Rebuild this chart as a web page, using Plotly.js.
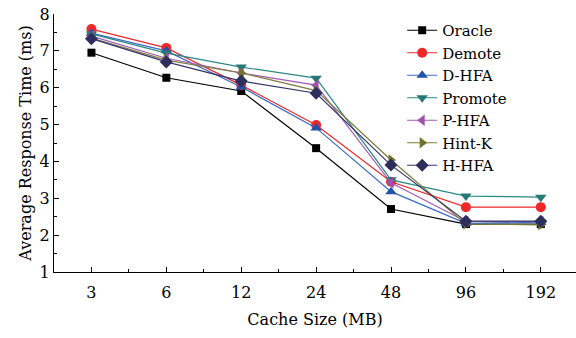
<!DOCTYPE html>
<html>
<head>
<meta charset="utf-8">
<script src="https://cdn.plot.ly/plotly-3.0.1.min.js"></script>
<style>html,body{margin:0;padding:0;background:#fff;}#chart{width:576px;height:338px;}</style>
</head>
<body>
<div id="chart"></div>
<script>
const cacheSizes = ["3", "6", "12", "24", "48", "96", "192"];
const oracle  = [6.95, 6.27, 5.91, 4.36, 2.71, 2.30, 2.30];
const demote  = [7.59, 7.08, 6.07, 4.99, 3.45, 2.76, 2.76];
const dhfa    = [7.48, 7.00, 6.02, 4.91, 3.18, 2.32, 2.35];
const promote = [7.46, 6.94, 6.56, 6.26, 3.50, 3.06, 3.03];
const phfa    = [7.40, 6.80, 6.40, 6.07, 3.42, 2.37, 2.37];
const hintk   = [7.35, 6.75, 6.40, 5.92, 4.04, 2.30, 2.28];
const hhfa    = [7.33, 6.70, 6.18, 5.85, 3.90, 2.38, 2.38];

const seriesNames = ["Oracle", "Demote", "D-HFA", "Promote", "P-HFA", "Hint-K", "H-HFA"];
const seriesData = [oracle, demote, dhfa, promote, phfa, hintk, hhfa];
const lineColors = ["#000000", "#f0282a", "#3a6cc4", "#2a8a86", "#a45bb4", "#7c7c3a", "#34346a"];
const markerColors = ["#000000", "#f0282a", "#2352a8", "#257a78", "#a04fae", "#72722e", "#2e2e5e"];
const symbols = ["square", "circle", "triangle-up", "triangle-down", "triangle-left", "triangle-right", "diamond"];
const sizes = [8, 10, 10, 10, 10, 10, 10];

const xIdx = cacheSizes.map((_, i) => i);

const traces = seriesNames.map((name, k) => ({
  x: xIdx,
  y: seriesData[k],
  name: name,
  type: "scatter",
  mode: "lines+markers",
  line: {color: lineColors[k], width: 1.2},
  marker: {symbol: symbols[k], size: sizes[k], color: markerColors[k]}
}));

const FONT = "DejaVu Serif";

const layout = {
  width: 576,
  height: 338,
  margin: {l: 54, r: 0, t: 14, b: 66},
  paper_bgcolor: "#ffffff",
  plot_bgcolor: "#ffffff",
  font: {family: FONT, size: 16, color: "#000"},
  showlegend: true,
  legend: {
    x: 0.667, y: 1.0, xanchor: "left", yanchor: "top",
    bgcolor: "rgba(0,0,0,0)", borderwidth: 0,
    font: {family: FONT, size: 15, color: "#000"},
    tracegroupgap: 0
  },
  xaxis: {
    range: [-0.5, 6.47],
    tickvals: xIdx,
    ticktext: cacheSizes,
    ticks: "inside",
    ticklen: 5,
    tickwidth: 1,
    tickcolor: "#000",
    ticklabelstandoff: 6,
    showline: true,
    linecolor: "#000",
    linewidth: 1,
    showgrid: false,
    zeroline: false,
    minor: {tickvals: [-0.5, 0.5, 1.5, 2.5, 3.5, 4.5, 5.5], ticks: "inside", ticklen: 3, tickcolor: "#000", showgrid: false},
    tickfont: {family: FONT, size: 16, color: "#000"},
    title: {text: "Cache Size (MB)", font: {size: 16, color: "#000"}, standoff: 12}
  },
  yaxis: {
    range: [1, 8],
    dtick: 1,
    ticks: "inside",
    ticklen: 5,
    tickwidth: 1,
    tickcolor: "#000",
    showline: true,
    linecolor: "#000",
    linewidth: 1,
    showgrid: false,
    zeroline: false,
    minor: {dtick: 0.5, ticks: "inside", ticklen: 3, tickcolor: "#000", showgrid: false},
    tickfont: {family: FONT, size: 16, color: "#000"},
    title: {text: "Average Response Time (ms)", font: {size: 16, color: "#000"}, standoff: 4}
  }
};

Plotly.newPlot("chart", traces, layout, {displayModeBar: false, staticPlot: true});
</script>
</body>
</html>
